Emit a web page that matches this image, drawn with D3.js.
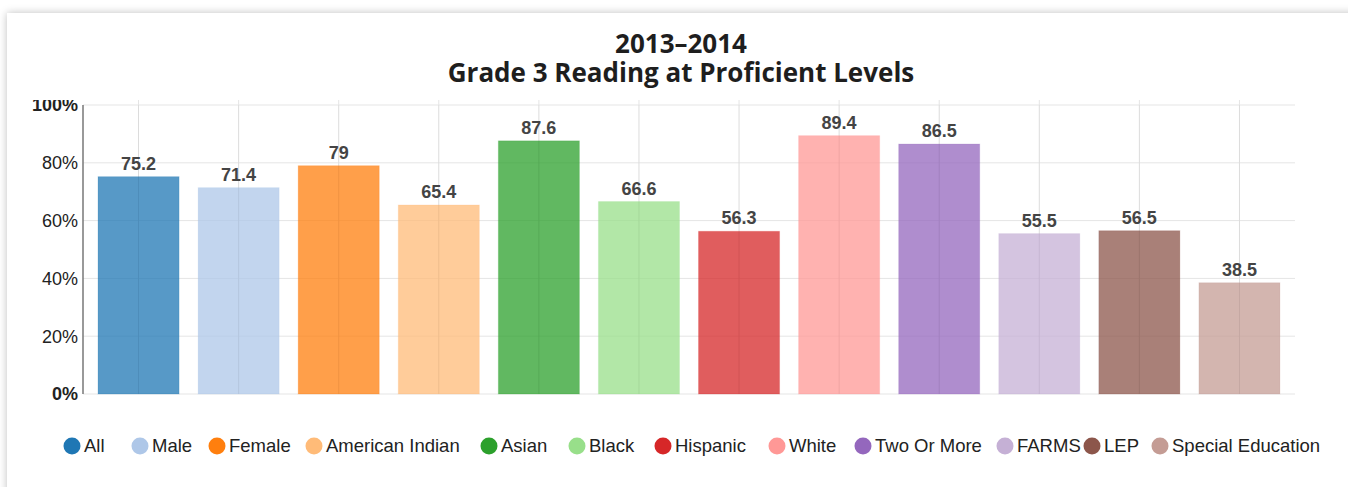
<!DOCTYPE html>
<html>
<head>
<meta charset="utf-8">
<script src="https://cdn.jsdelivr.net/npm/d3@7"></script>
<style>
  body { margin: 0; background: #fff; overflow: hidden; }
  #card { position: absolute; left: 7px; top: 13px; width: 1400px; height: 520px; background: #fff;
          box-shadow: 0 0 8px rgba(0,0,0,0.25); }
  svg { position: absolute; left: 0; top: 0; }
</style>
</head>
<body>
<div id="card"></div>
<div id="chart"></div>
<script>
// data
var groups = ["All", "Male", "Female", "American Indian", "Asian", "Black", "Hispanic",
              "White", "Two Or More", "FARMS", "LEP", "Special Education"];
var values = [75.2, 71.4, 79, 65.4, 87.6, 66.6, 56.3, 89.4, 86.5, 55.5, 56.5, 38.5];
var colors = ["#1f77b4", "#aec7e8", "#ff7f0e", "#ffbb78", "#2ca02c", "#98df8a",
              "#d62728", "#ff9896", "#9467bd", "#c5b0d5", "#8c564b", "#c49c94"];
var yTicks = [0, 20, 40, 60, 80, 100];
var titleLines = ["2013\u20132014", "Grade 3 Reading at Proficient Levels"];

// legend circle positions (page x)
var legendX = [72, 140, 217, 314, 489, 577, 663, 777, 863, 1005, 1092, 1160];

var W = 1348, H = 487;
var margin = {top: 105, left: 83, bottom: 93};
var plotRight = 1295;
var height = H - margin.top - margin.bottom; // 289

var svg = d3.select("#chart").append("svg")
    .attr("width", W).attr("height", H);

// title, two lines in one text element
svg.append("text")
    .attr("y", 53)
    .attr("text-anchor", "middle")
    .style("font-family", "'Open Sans', sans-serif")
    .style("font-weight", "bold")
    .style("font-size", "26px")
    .style("fill", "#1e1e1e")
  .selectAll("tspan")
  .data(titleLines).enter().append("tspan")
    .attr("x", 681)
    .attr("dy", function(d, i) { return i === 0 ? 0 : 29; })
    .text(function(d) { return d; });

var g = svg.append("g")
    .attr("transform", "translate(" + margin.left + "," + margin.top + ")");

var x = d3.scaleBand()
    .domain(groups)
    .range([0, plotRight - margin.left])
    .paddingInner(0.19)
    .paddingOuter(0.15);

var y = d3.scaleLinear()
    .domain([0, 100])
    .range([height, 0]);

// horizontal grid
g.append("g").selectAll("line")
  .data(yTicks).enter().append("line")
    .attr("x1", 0).attr("x2", plotRight - margin.left)
    .attr("y1", function(d) { return y(d); })
    .attr("y2", function(d) { return y(d); })
    .style("stroke", "#e5e5e5").style("stroke-width", 1);

// vertical grid at band centres
g.append("g").selectAll("line")
  .data(groups).enter().append("line")
    .attr("x1", function(d) { return x(d) + x.bandwidth() / 2; })
    .attr("x2", function(d) { return x(d) + x.bandwidth() / 2; })
    .attr("y1", -5).attr("y2", height)
    .style("stroke", "#e5e5e5").style("stroke-width", 1);

// bars
g.append("g").selectAll("rect")
  .data(values).enter().append("rect")
    .attr("x", function(d, i) { return x(groups[i]); })
    .attr("y", function(d) { return y(d); })
    .attr("width", x.bandwidth())
    .attr("height", function(d) { return height - y(d); })
    .style("fill", function(d, i) { return colors[i]; })
    .style("fill-opacity", 0.75)
    .style("stroke", function(d, i) { return colors[i]; })
    .style("stroke-opacity", 0.2);

// faint grid showing through bars
g.append("g").selectAll("line")
  .data(groups).enter().append("line")
    .attr("x1", function(d) { return x(d) + x.bandwidth() / 2; })
    .attr("x2", function(d) { return x(d) + x.bandwidth() / 2; })
    .attr("y1", 0).attr("y2", height)
    .style("stroke", "#000").style("stroke-opacity", 0.04);

// value labels
g.append("g").selectAll("text")
  .data(values).enter().append("text")
    .attr("x", function(d, i) { return x(groups[i]) + x.bandwidth() / 2; })
    .attr("y", function(d) { return y(d) - 7; })
    .attr("text-anchor", "middle")
    .style("font-family", "Arial, 'Liberation Sans', sans-serif")
    .style("font-weight", "bold")
    .style("font-size", "18px")
    .style("fill", "#444")
    .text(function(d) { return d; });

// y axis (top label is cut off as in the original)
svg.append("clipPath").attr("id", "yclip")
  .append("rect").attr("x", -100).attr("y", 100 - margin.top).attr("width", 200).attr("height", 400);

var yAxis = g.append("g").attr("clip-path", "url(#yclip)");
yAxis.append("line")
    .attr("x1", 0).attr("x2", 0).attr("y1", 0).attr("y2", height)
    .style("stroke", "#777").style("stroke-width", 1.5);
yAxis.selectAll("text")
  .data(yTicks).enter().append("text")
    .attr("x", -5)
    .attr("y", function(d) { return y(d); })
    .attr("dy", "0.35em")
    .attr("text-anchor", "end")
    .style("font-family", "Arial, 'Liberation Sans', sans-serif")
    .style("font-size", "18px")
    .style("font-weight", function(d) { return (d === 0 || d === 100) ? "bold" : "normal"; })
    .style("fill", "#222")
    .text(function(d) { return d + "%"; });

// legend
var legend = svg.append("g").selectAll("g")
  .data(groups).enter().append("g")
    .attr("transform", function(d, i) { return "translate(" + legendX[i] + ",446)"; });
legend.append("circle")
    .attr("r", 8.5)
    .style("fill", function(d, i) { return colors[i]; });
legend.append("text")
    .attr("x", 12)
    .attr("dy", "0.35em")
    .style("font-family", "Arial, 'Liberation Sans', sans-serif")
    .style("font-size", "18.5px")
    .style("fill", "#222")
    .text(function(d) { return d; });
</script>
</body>
</html>
